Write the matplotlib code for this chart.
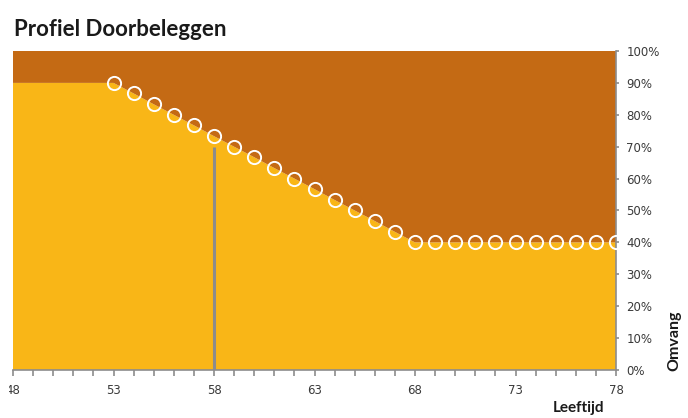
import numpy as np
import matplotlib.pyplot as plt
from matplotlib.ticker import MultipleLocator, FuncFormatter
from matplotlib.transforms import Bbox

# leeftijd en percentage doorbeleggen
ages = [48, 49, 50, 51, 52, 53, 54, 55, 56, 57, 58, 59, 60, 61, 62, 63,
        64, 65, 66, 67, 68, 69, 70, 71, 72, 73, 74, 75, 76, 77, 78]
share = [90, 90, 90, 90, 90, 90, 86.7, 83.3, 80, 76.7, 73.3, 70, 66.7, 63.3, 60, 56.7,
         53.3, 50, 46.7, 43.3, 40, 40, 40, 40, 40, 40, 40, 40, 40, 40, 40]
marker_from = 53
current_age = 58
current_top = 70
tick_ages = [48, 53, 58, 63, 68, 73, 78]

yellow = '#F9B617'
dark = '#C46A14'
grey = '#8C8C8C'

ages = np.array(ages)
share = np.array(share)
rest = 100 - share

fig = plt.figure(figsize=(6.88, 4.18), dpi=100)
ax = fig.add_axes([13/688, 1 - 370/418, 603/688, 319/418])

ax.stackplot(ages, share, rest, colors=[yellow, dark], linewidth=0)
m = ages >= marker_from
ax.plot(ages[m], share[m], 'o', ms=9.5, mfc='none', mec='white', mew=1.4, zorder=4)
ax.plot([current_age, current_age], [0, current_top], color=grey, lw=2.2,
        solid_capstyle='butt', zorder=3)

ax.set_xlim(48, 78)
ax.set_ylim(0, 100)

ax.yaxis.tick_right()
ax.yaxis.set_major_locator(MultipleLocator(10))
ax.yaxis.set_major_formatter(FuncFormatter(lambda v, p: f'{v:.0f}%'))
ax.set_xticks(tick_ages)
ax.xaxis.set_minor_locator(MultipleLocator(1))
ax.tick_params(axis='both', which='both', colors=grey, labelcolor='#3a3a3a',
               labelsize=8.5, direction='out')
ax.tick_params(axis='x', which='both', length=4, width=1.2, pad=6)
ax.tick_params(axis='y', length=2.5, width=1.2, pad=5)

for s in ['top', 'left']:
    ax.spines[s].set_visible(False)
for s in ['right', 'bottom']:
    ax.spines[s].set_color(grey)
    ax.spines[s].set_linewidth(1.2)

fig.text(14/688, 1 - 29/418, 'Profiel Doorbeleggen', fontsize=16, fontweight='bold',
         family='Lato', color='#1a1a1a', va='center', ha='left')
fig.text(604/688, 1 - 408/418, 'Leeftijd', fontsize=11, fontweight='bold',
         family='Lato', color='#1a1a1a', va='center', ha='right')
fig.text(674/688, 1 - 371/418, 'Omvang', fontsize=11.5, fontweight='bold',
         family='Lato', color='#1a1a1a', va='bottom', ha='center', rotation=90)

# het eerste label valt in het origineel deels buiten beeld
fig.canvas.draw()
first = ax.get_xticklabels()[0]
first.set_clip_box(Bbox([[9, 0], [688, 418]]))
first.set_clip_on(True)

fig.savefig('out.png', dpi=100)
